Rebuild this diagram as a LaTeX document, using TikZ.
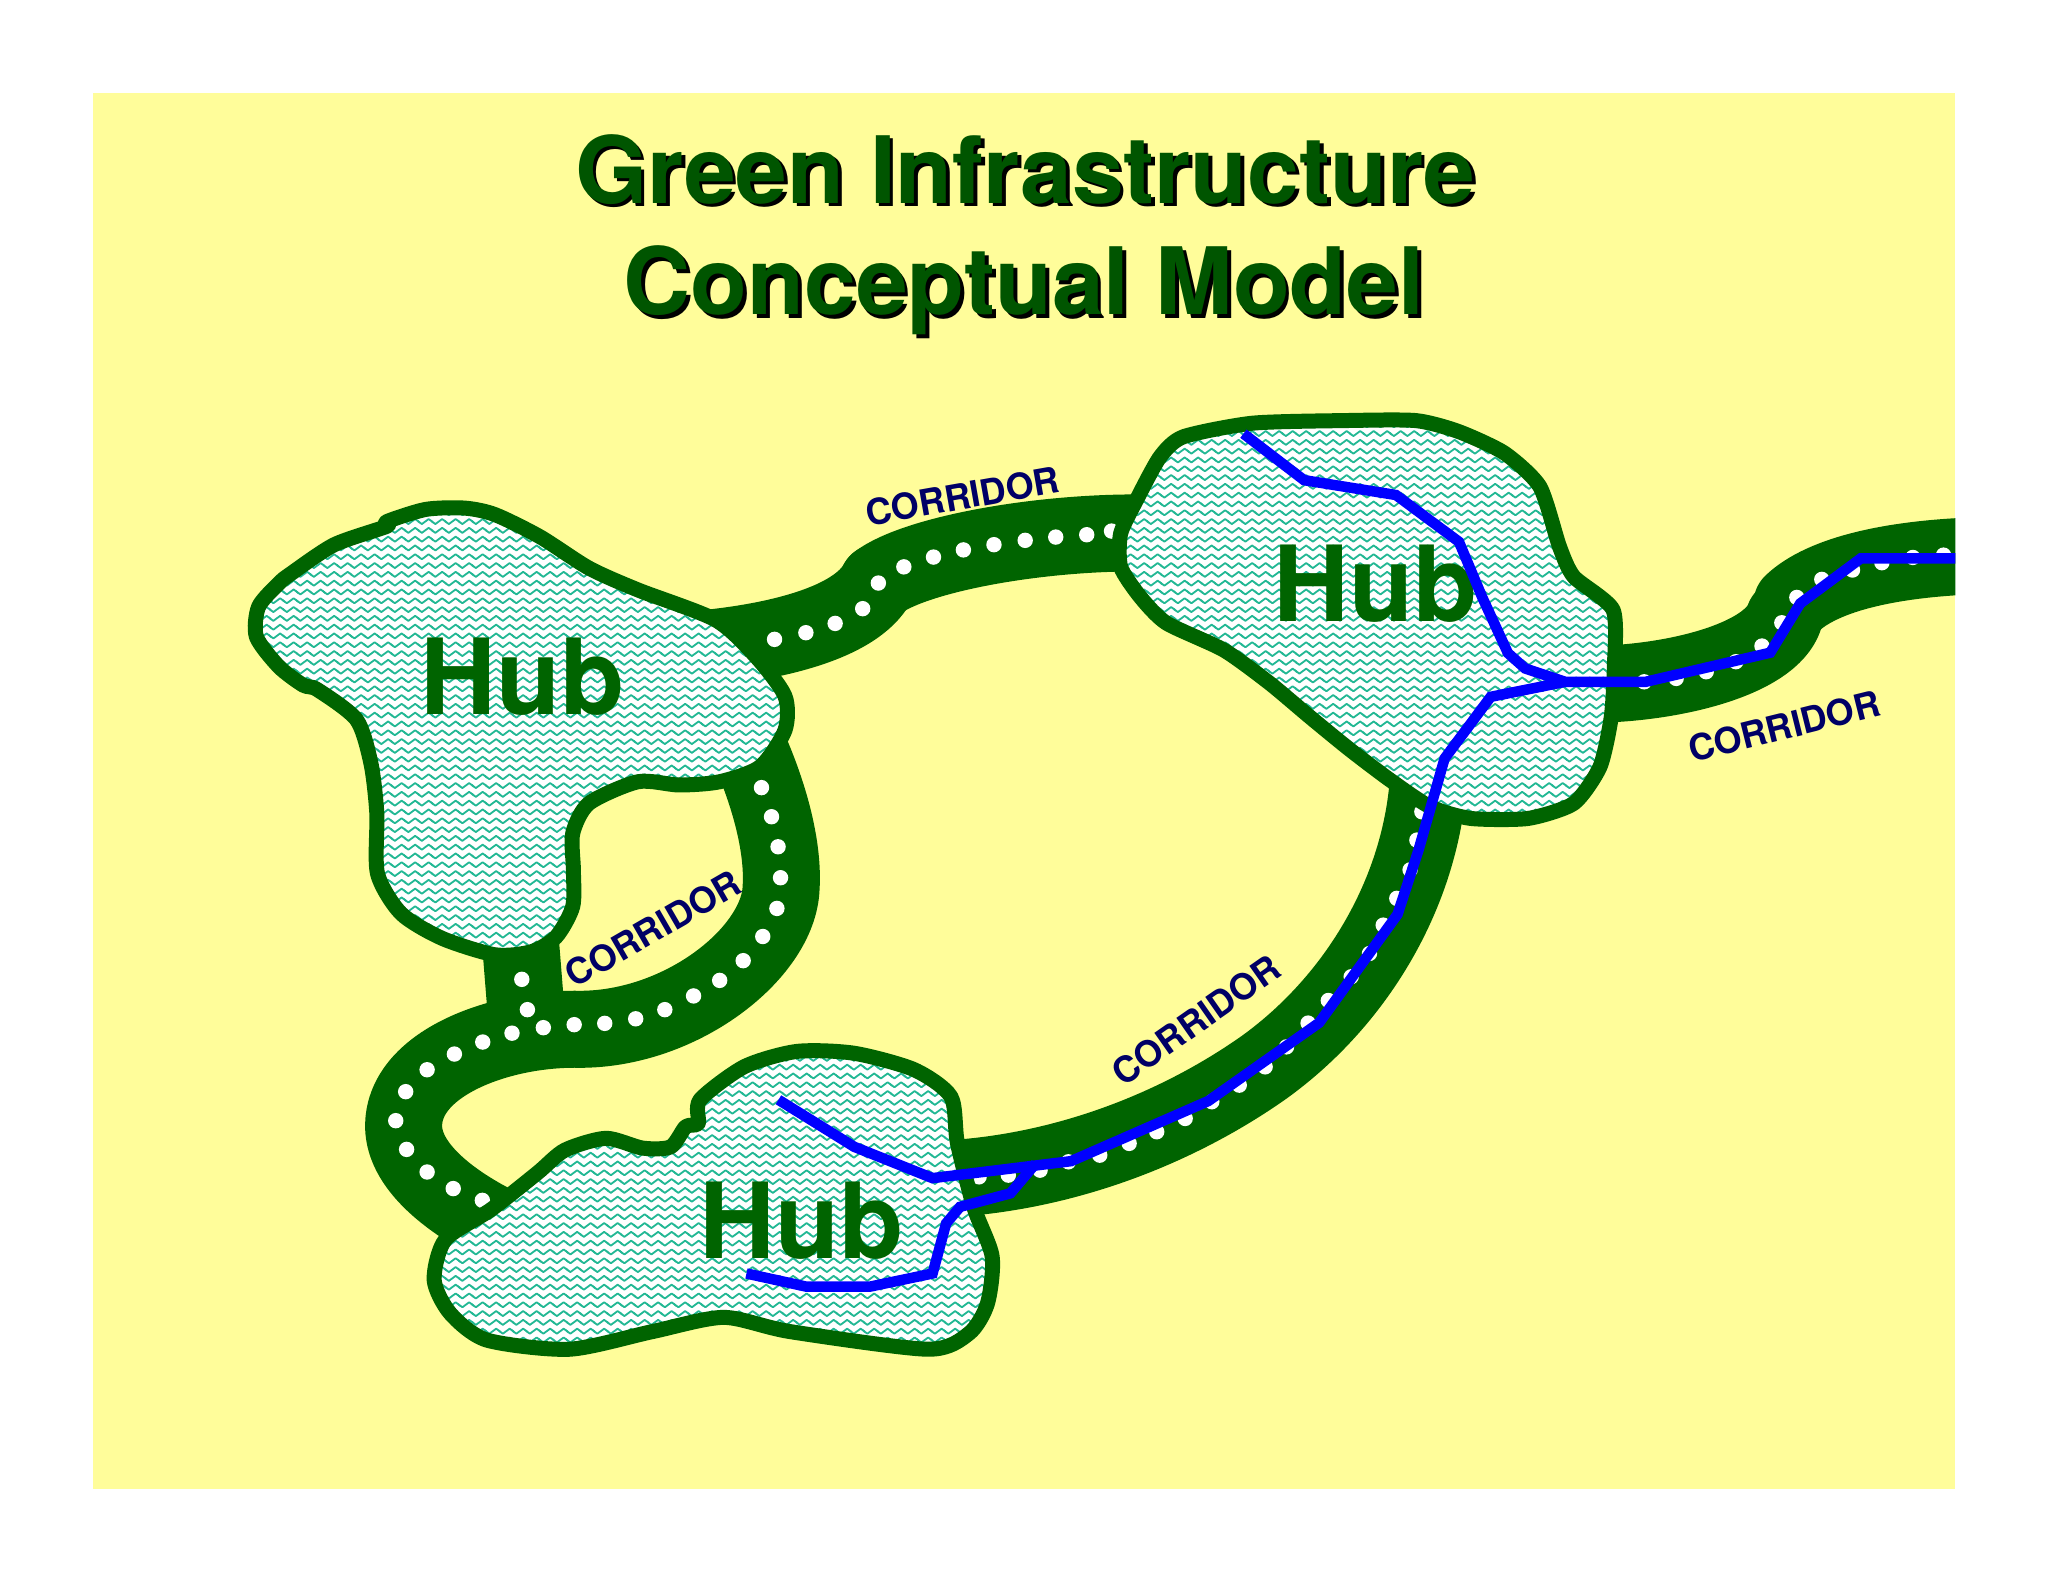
\documentclass[tikz,border=0pt]{standalone}
\usepackage{fontspec}
\setmainfont{TeX Gyre Heros}
\usetikzlibrary{patterns}
\definecolor{bgyellow}{HTML}{FFFD9A}
\definecolor{hubgreen}{HTML}{006400}
\definecolor{titlegreen}{HTML}{005500}
\definecolor{wavecol}{HTML}{22B894}
\definecolor{rivblue}{HTML}{0000FF}
\definecolor{labnavy}{HTML}{000066}
\pgfdeclarepatternformonly{wavy}{\pgfqpoint{-1pt}{-1pt}}{\pgfqpoint{14.5pt}{9.8pt}}{\pgfqpoint{13.5pt}{8.8pt}}{%
  \pgfsetlinewidth{1.8pt}%
  \pgfsetroundjoin
  \pgfpathmoveto{\pgfqpoint{-3.375pt}{6.9pt}}%
  \pgfpathlineto{\pgfqpoint{3.375pt}{1.9pt}}%
  \pgfpathlineto{\pgfqpoint{10.125pt}{6.9pt}}%
  \pgfpathlineto{\pgfqpoint{16.875pt}{1.9pt}}%
  \pgfusepath{stroke}}
\tikzset{
  corridorband/.style={draw=hubgreen,line width=77pt,line join=round,line cap=round},
  hubshape/.style={draw=hubgreen,line width=15pt,line join=round,
    preaction={fill=white},preaction={pattern=wavy,pattern color=wavecol}},
  river/.style={draw=rivblue,line width=10.5pt,line join=miter},
  hubtext/.style={text=hubgreen,font=\fontsize{105}{105}\selectfont\bfseries,anchor=base,inner sep=0pt},
  titletext/.style={font=\fontsize{93}{93}\selectfont\bfseries,anchor=base,inner sep=0pt},
  corridorlabel/.style={text=labnavy,font=\fontsize{36}{36}\selectfont\bfseries,inner sep=0pt},
}
\begin{document}
\begin{tikzpicture}[x=1.3061pt,y=-1.3061pt]
\useasboundingbox (0,0) rectangle (1568,1211.2);
\fill[white] (0,0) rectangle (1568,1211.2);
\fill[bgyellow] (71,71) rectangle (1497,1140);
\begin{scope}
\clip (71,71) rectangle (1497,1140);
% corridors
\draw[corridorband] (535,497) .. controls (590,492) and (655,478) .. (672,446);
\draw[corridorband] (672,446) .. controls (700,425) and (790,408) .. (870,408);
\draw[corridorband] (572,570) .. controls (590,610) and (600,650) .. (598,680) .. controls (596,730) and (520,790) .. (440,788) .. controls (380,788) and (309,815) .. (309,862) .. controls (309,895) and (350,925) .. (395,945);
\draw[corridorband] (398,715) -- (404,790);
\draw[corridorband] (715,903) .. controls (810,900) and (900,865) .. (968,817) .. controls (1040,765) and (1090,680) .. (1094,590);
\draw[corridorband] (1215,524) .. controls (1280,524) and (1355,505) .. (1366,473);
\draw[corridorband] (1372,462) .. controls (1395,440) and (1450,425) .. (1540,425);
% dots
\foreach \p in {(593,489.5),(617,484.4),(639.4,477.3),(660.5,466),(672.5,446.4),(692,434),(714.7,426.5),(737.6,421),(761,417),(784.9,413.7),(808.3,411.2),(832,409.4),(851,406.6),
 (583,603),(590.7,625.3),(595.7,648.3),(597.6,672),(594.8,695.5),(584,717),(569,735.5),(551,750.6),(531,762.5),(509,773),(486.7,780),(463,783.5),(439.6,784.5),(416,786.8),(403.8,773),(399.5,749.8),(392,791),(369.6,797.8),(347.9,807),(327,819),(310.6,835.8),(303,858),(311.3,880),(327,897.3),(347,910),(369.3,919),
 (749.6,901),(772,899.7),(796.3,895.9),(818,889.5),(842,884.4),(864.5,875.4),(885.6,866.5),(907.4,856.3),(927.8,843.5),(948.8,830.8),(968.6,816.8),(985,801.5),(1001.5,783.3),(1017,766),(1034.5,747.8),(1048.5,730),(1059,708.3),(1069.4,687.8),(1079.6,666),(1084.8,643.2),(1088.6,621.5),
 (1258.8,522),(1283.3,519.4),(1306.3,514.3),(1329,506.6),(1349,494.6),(1364.2,476.8),(1375.7,457.4),(1394.8,443.6),(1418.3,436.4),(1440.8,430.8),(1464.5,426.8),(1488,425)}
  \fill[white] \p circle[radius=5.9];
\end{scope}
% hubs
\draw[hubshape] plot[smooth cycle,tension=0.45] coordinates {(355.7,389) (326,390) (296,399.4) (296,403) (256,417) (223,439) (213.5,446.6) (198,464.5) (196.3,487.5) (213.5,510.4) (232,524.5) (243,528) (273,551) (284,584.5) (288.5,622.7) (289,668.7) (307,699.3) (338.5,718.4) (379,731) (407,728.6) (426,717) (438.5,694) (439,666) (438.5,638) (451,615) (488.5,598.5) (520,601) (551,598.5) (582,587) (601,559) (601,533) (579,503) (548,474.7) (488.5,451.7) (451,435) (413.5,411) (379,394)};
\draw[hubshape] plot[smooth cycle,tension=0.45] coordinates {(610,805) (570,816.6) (536,842) (534.6,860) (525,862.6) (513.5,878) (492,879) (464,871.5) (432.6,880.5) (411.5,898) (376,926) (341,949) (332.4,980) (344.7,1005.5) (372.8,1026) (436,1033) (499.4,1019.5) (554,1008.6) (605,1019.5) (710.4,1033) (742,1020.8) (756,998) (759.6,962) (745.5,924) (733,875) (728,839.6) (700,819) (654,806.4)};
\draw[hubshape] plot[smooth cycle,tension=0.4] coordinates {(1084,322) (1029,322) (959,324) (906,334.4) (888,350) (870,383) (858,408.4) (858,434) (873,457) (893,477) (937,497.7) (972,523) (1003,549) (1033.6,574) (1064,597) (1095,617.7) (1126,626.6) (1170,626.6) (1205,615) (1225,587) (1233.6,549) (1236,510.5) (1235,467) (1205,441.6) (1194,418.6) (1179,372.7) (1152,347) (1117,330.5)};
% hub labels
\node[hubtext] (hubA) at (400,547.4) {Hub};
\node[hubtext] (hubB) at (614,963.4) {Hub};
\node[hubtext] (hubC) at (1053.5,476) {Hub};
% rivers
\draw[river] (952,332) -- (998.4,367.6) -- (1068.8,379) -- (1117,414.8) -- (1134.7,457) -- (1154.5,500) -- (1167.7,511.8) -- (1198.4,522) -- (1260,522) -- (1355.3,499.7) -- (1378.3,462) -- (1424.7,427.5) -- (1497,427.5);
\draw[river] (1198.4,522) -- (1141.3,533.5) -- (1106,580.7) -- (1086,651) -- (1070,700) -- (1010,783) -- (925,843) -- (820,889) -- (714,902) -- (654,878) -- (596,842);
\draw[river] (793,890.7) -- (773.6,913.6) -- (735,924) -- (724.4,936.6) -- (714,975) -- (666.4,985) -- (617,985) -- (571.5,975);
% corridor labels
\node[corridorlabel,rotate=10] (corA) at (737,380) {CORRIDOR};
\node[corridorlabel,rotate=30] (corB) at (500,711) {CORRIDOR};
\node[corridorlabel,rotate=35] (corC) at (916,781) {CORRIDOR};
\node[corridorlabel,rotate=14] (corD) at (1366,556) {CORRIDOR};
% title
\node[titletext,text=black] (t1s) at ([shift={(2.8,2.8)}]785,155.5) {Green Infrastructure};
\node[titletext,text=black] (t2s) at ([shift={(2.8,2.8)}]784,241) {Conceptual Model};
\node[titletext,text=titlegreen] (t1) at (785,155.5) {Green Infrastructure};
\node[titletext,text=titlegreen] (t2) at (784,241) {Conceptual Model};
\end{tikzpicture}
\end{document}
